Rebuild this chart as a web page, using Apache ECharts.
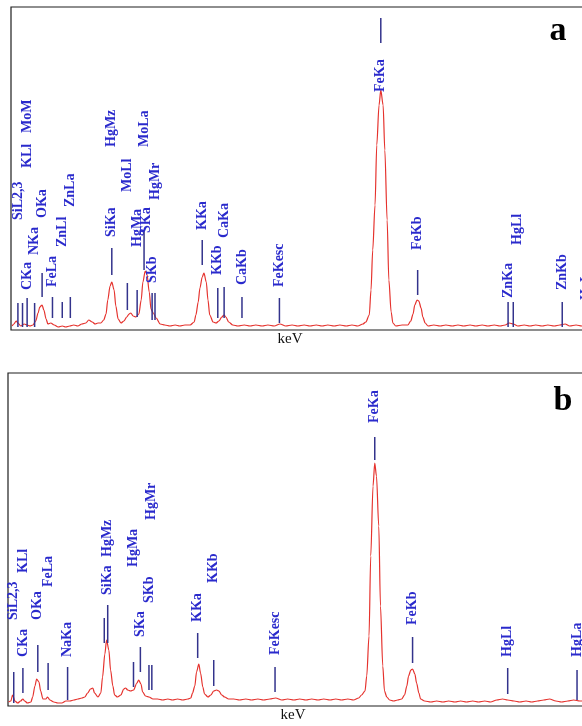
<!DOCTYPE html>
<html><head><meta charset="utf-8">
<script src="https://cdn.jsdelivr.net/npm/echarts@6/dist/echarts.min.js"></script>
<style>html,body{margin:0;padding:0;background:#fff;overflow:hidden}#c{width:640px;height:726px}</style>
</head><body><div id="c"></div><script>
// ---------- Panel a spectrum (keV, counts) ----------
const specAEnergy = [0.02,0.05,0.09,0.12,0.17,0.23,0.28,0.33,0.38,0.43,0.47,0.50,0.54,0.57,0.61,0.64,0.69,0.75,0.82,0.89,0.95,1.02,1.09,1.16,1.23,1.30,1.35,1.41,1.46,1.51,1.56,1.61,1.65,1.68,1.72,1.75,1.79,1.82,1.86,1.91,1.96,2.01,2.05,2.08,2.12,2.17,2.22,2.26,2.29,2.33,2.36,2.40,2.43,2.47,2.52,2.59,2.67,2.76,2.85,2.93,3.02,3.11,3.18,3.21,3.25,3.28,3.32,3.35,3.39,3.42,3.45,3.51,3.56,3.61,3.66,3.70,3.73,3.78,3.85,3.94,4.05,4.15,4.25,4.36,4.46,4.57,4.67,4.77,4.88,4.98,5.09,5.19,5.30,5.40,5.50,5.61,5.71,5.82,5.92,6.02,6.11,6.16,6.22,6.25,6.28,6.32,6.35,6.39,6.42,6.46,6.49,6.53,6.56,6.60,6.63,6.68,6.79,6.89,6.94,6.98,7.01,7.05,7.08,7.12,7.15,7.19,7.24,7.34,7.45,7.55,7.66,7.76,7.86,7.97,8.07,8.18,8.28,8.39,8.49,8.58,8.65,8.72,8.80,8.91,9.01,9.11,9.22,9.32,9.43,9.53,9.62,9.70,9.81,9.91,10.05,10.23,10.40,10.50];
const specACounts = [40,60,90,70,40,60,50,40,50,90,170,230,250,200,110,60,70,50,30,40,30,40,50,40,60,70,100,80,60,70,70,100,160,300,440,480,400,240,110,70,90,130,160,170,140,130,160,300,480,590,560,380,210,170,120,60,50,40,50,40,50,50,80,150,280,420,530,570,480,300,150,80,70,90,130,150,130,80,50,40,50,40,50,40,50,40,60,40,50,40,50,40,50,40,50,40,50,40,50,40,60,80,150,400,800,1250,1850,2250,2400,2250,1800,1100,500,180,70,40,50,50,90,160,250,300,290,220,130,70,40,50,40,50,40,50,40,50,40,50,40,50,40,50,70,60,40,50,40,50,40,50,40,50,60,40,50,40,50,40,50,40];

// ---------- Panel b spectrum (keV, counts) ----------
const specBEnergy = [0.01,0.05,0.08,0.12,0.17,0.22,0.26,0.29,0.34,0.40,0.43,0.47,0.50,0.54,0.57,0.61,0.66,0.69,0.73,0.80,0.87,0.94,1.01,1.08,1.15,1.22,1.29,1.34,1.39,1.44,1.48,1.51,1.57,1.62,1.65,1.69,1.72,1.76,1.79,1.83,1.86,1.91,1.97,2.02,2.05,2.09,2.14,2.19,2.25,2.28,2.32,2.35,2.40,2.46,2.53,2.61,2.70,2.79,2.87,2.96,3.05,3.14,3.19,3.22,3.26,3.29,3.33,3.36,3.40,3.43,3.49,3.54,3.59,3.64,3.68,3.73,3.78,3.85,3.94,4.04,4.15,4.25,4.36,4.46,4.57,4.67,4.78,4.88,4.99,5.09,5.20,5.30,5.41,5.51,5.62,5.72,5.82,5.93,6.03,6.12,6.17,6.23,6.26,6.30,6.33,6.37,6.40,6.43,6.47,6.50,6.54,6.57,6.61,6.66,6.73,6.80,6.87,6.92,6.96,6.99,7.03,7.06,7.10,7.13,7.17,7.20,7.27,7.38,7.48,7.59,7.69,7.80,7.90,8.00,8.11,8.21,8.32,8.42,8.53,8.63,8.72,8.83,8.93,9.04,9.14,9.24,9.35,9.45,9.56,9.66,9.77,9.87,9.98,10.15,10.33,10.50];
const specBCounts = [40,50,110,50,30,50,70,50,30,40,90,200,270,240,150,70,70,90,60,40,30,30,50,50,60,70,80,90,130,170,180,130,90,130,290,520,660,560,360,200,110,90,110,170,180,160,150,160,230,260,220,140,100,90,70,70,60,70,60,70,60,70,80,130,200,340,420,330,190,120,90,110,150,160,150,110,90,70,70,60,70,60,70,60,70,80,60,70,60,70,60,70,60,70,60,70,60,70,60,80,110,150,300,700,1500,2200,2430,2300,1800,1000,400,150,90,60,50,60,70,110,200,300,360,370,320,230,130,70,50,40,50,40,50,40,50,40,50,40,50,40,60,70,60,50,40,50,40,50,60,70,50,40,50,60,50,50,40,50];

// ---------- Peak markers, panel a ----------
const aMarkName  = ['SiL2,3','','KLl','MoM','CKa','NKa','OKa','FeLa','ZnLl','ZnLa','SiKa','HgMz','MoLl','HgMa','MoLa','SKa','SKb','HgMr','KKa','KKb','CaKa','CaKb','FeKesc','FeKa','FeKb','ZnKa','','HgLl','ZnKb','HgLa'];
const aMarkE     = [0.12,0.20,0.29,0.29,0.28,0.41,0.54,0.72,0.89,1.03,1.75,1.75,2.02,2.19,2.31,2.35,2.45,2.50,3.32,3.59,3.70,4.01,4.66,6.42,7.06,8.63,8.72,8.80,9.57,9.99];
const aLineLo    = [30,30,null,null,30,30,330,120,120,120,550,null,200,130,600,null,100,100,650,120,120,120,70,2870,350,30,30,null,30,30];
const aLineHi    = [270,270,null,null,320,270,570,330,280,330,820,null,470,400,1000,null,370,370,900,420,430,330,320,3120,600,280,280,null,280,280];
const aTextLo    = [1100,null,1620,1970,400,750,1120,430,830,1230,930,1830,1380,830,1830,970,470,1300,1000,550,920,450,430,2380,800,320,null,850,400,300];

// ---------- Peak markers, panel b ----------
const bMarkName  = ['SiL2,3','CKa','KLl','OKa','FeLa','NaKa','','SiKa','HgMz','HgMa','SKa','SKb','HgMr','KKa','KKb','FeKesc','FeKa','FeKb','HgLl','HgLa'];
const bMarkE     = [0.10,0.26,0.26,0.52,0.70,1.04,1.68,1.74,1.74,2.19,2.31,2.46,2.51,3.31,3.59,4.66,6.40,7.06,8.72,9.93];
const bLineLo    = [30,130,null,340,160,60,630,630,null,190,340,160,160,480,200,140,2460,430,120,60];
const bLineHi    = [340,380,null,610,430,390,880,1010,null,440,590,410,410,730,460,390,2690,690,380,360];
const bTextLo    = [860,490,1330,860,1190,490,null,1110,1490,1390,690,1030,1860,840,1230,510,2830,810,490,490];

const LABEL_COLOR = '#2a2acc';
const LINE_COLOR = '#33338c';
const LABEL_FONT = 'bold 14px "Liberation Serif", "DejaVu Serif", serif';

function pairs(xs, ys) { return xs.map((x, i) => [x, ys[i]]); }

function markerSeries(idx, names, energy, lo, hi, textLo) {
  return {
    type: 'custom',
    xAxisIndex: idx, yAxisIndex: idx,
    silent: true,
    z: 5,
    data: names.map((n, i) => [energy[i], 0, i]),
    encode: { x: 0, y: 1 },
    renderItem: function (params, api) {
      const i = api.value(2);
      const e = api.value(0);
      const children = [];
      if (lo[i] != null) {
        const p0 = api.coord([e, lo[i]]);
        const p1 = api.coord([e, hi[i]]);
        children.push({ type: 'line', shape: { x1: p0[0], y1: p0[1], x2: p1[0], y2: p1[1] },
          style: { stroke: LINE_COLOR, lineWidth: 1.5 } });
      }
      if (names[i] && textLo[i] != null) {
        const p = api.coord([e, textLo[i]]);
        children.push({ type: 'text', x: p[0], y: p[1], rotation: Math.PI / 2,
          style: { text: names[i], fill: LABEL_COLOR, font: LABEL_FONT, align: 'left', verticalAlign: 'middle' } });
      }
      return { type: 'group', children: children };
    }
  };
}

function spectrumSeries(idx, xs, ys) {
  return {
    type: 'line', xAxisIndex: idx, yAxisIndex: idx,
    data: pairs(xs, ys), showSymbol: false, symbol: 'none',
    smooth: 0.3, smoothMonotone: 'x', silent: true, z: 3,
    lineStyle: { color: '#e5322d', width: 1.2 }
  };
}

const xAxisBase = { type: 'value', min: 0, max: 10.5, axisLine: { show: false }, axisTick: { show: false },
  axisLabel: { show: false }, splitLine: { show: false } };
const yAxisBase = { type: 'value', min: 0, axisLine: { show: false }, axisTick: { show: false },
  axisLabel: { show: false }, splitLine: { show: false } };

const chart = echarts.init(document.getElementById('c'), null, { renderer: 'canvas' });
chart.setOption({
  animation: false,
  backgroundColor: '#ffffff',
  grid: [
    { left: 11, top: 7, height: 323, width: 604.8, outerBoundsMode: 'none', show: true, borderColor: '#1e1e1e', borderWidth: 1.2, backgroundColor: 'transparent' },
    { left: 8, top: 373, height: 333, width: 601.7, outerBoundsMode: 'none', show: true, borderColor: '#1e1e1e', borderWidth: 1.2, backgroundColor: 'transparent' }
  ],
  xAxis: [Object.assign({ gridIndex: 0 }, xAxisBase), Object.assign({ gridIndex: 1 }, xAxisBase)],
  yAxis: [Object.assign({ gridIndex: 0, max: 3230 }, yAxisBase), Object.assign({ gridIndex: 1, max: 3330 }, yAxisBase)],
  graphic: [
    { type: 'text', x: 290, y: 339, style: { text: 'keV', font: '15px "Liberation Serif", serif', fill: '#111', align: 'center', verticalAlign: 'middle' } },
    { type: 'text', x: 293, y: 715, style: { text: 'keV', font: '15px "Liberation Serif", serif', fill: '#111', align: 'center', verticalAlign: 'middle' } },
    { type: 'text', x: 558, y: 31, style: { text: 'a', font: 'bold 34px "Liberation Serif", serif', fill: '#000', align: 'center', verticalAlign: 'middle' } },
    { type: 'text', x: 563, y: 401, style: { text: 'b', font: 'bold 34px "Liberation Serif", serif', fill: '#000', align: 'center', verticalAlign: 'middle' } }
  ],
  series: [
    spectrumSeries(0, specAEnergy, specACounts),
    markerSeries(0, aMarkName, aMarkE, aLineLo, aLineHi, aTextLo),
    spectrumSeries(1, specBEnergy, specBCounts),
    markerSeries(1, bMarkName, bMarkE, bLineLo, bLineHi, bTextLo)
  ]
});
</script></body></html>
